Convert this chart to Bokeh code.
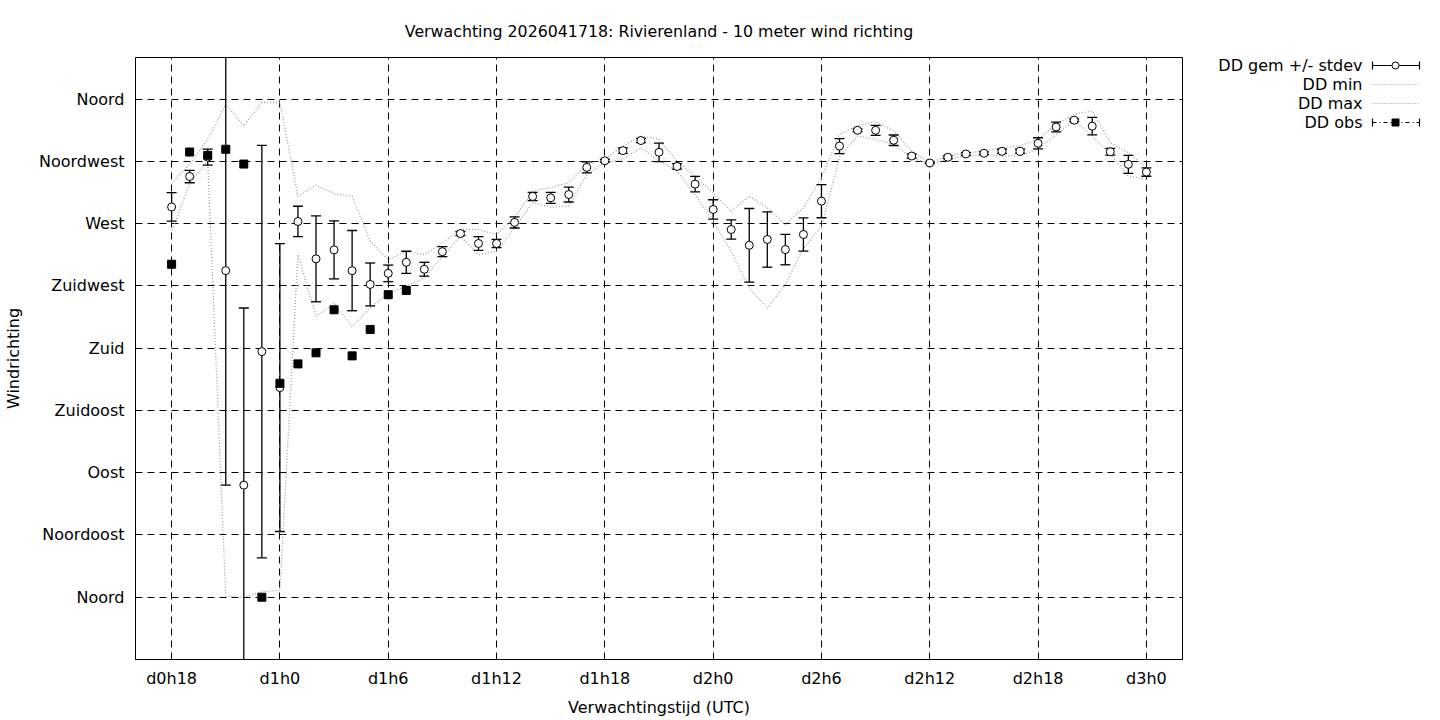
import math
from bokeh.plotting import figure
from bokeh.models import Range1d, FixedTicker
from bokeh.layouts import row
from bokeh.embed import file_html
from bokeh.resources import INLINE
from bokeh.core.properties import value

# ---- data (hours since d0h0) ----
hours = list(range(18, 73))
dd_mean = [282.0, 304.0, 318.0, 236.0, 81.0, 177.5, 151.5, 271.5, 244.5, 251.0,
           236.0, 226.0, 234.0, 242.0, 237.0, 249.7, 262.8, 255.6, 255.6, 270.8,
           289.6, 288.6, 291.0, 310.6, 315.4, 322.7, 330.0, 321.5, 311.3, 298.5,
           280.2, 265.7, 254.3, 258.5, 251.2, 262.1, 286.2, 326.0, 337.4, 337.4,
           330.2, 318.8, 313.8, 317.9, 320.3, 320.8, 322.2, 322.2, 328.0, 339.8,
           344.7, 340.4, 321.9, 312.8, 307.2]
dd_sd = [10.3, 4.5, 5.8, 155.0, 128.0, 149.0, 104.0, 11.0, 31.0, 21.0,
         29.0, 15.5, 6.0, 8.0, 5.0, 3.6, 1.5, 5.0, 3.0, 4.0,
         3.0, 4.0, 5.4, 4.0, 1.0, 2.0, 1.5, 6.7, 2.0, 5.6,
         7.0, 7.0, 26.6, 20.0, 11.0, 12.0, 12.0, 5.4, 1.0, 3.6,
         3.8, 1.5, 0.5, 1.0, 1.0, 1.0, 1.5, 1.5, 4.0, 3.5,
         1.0, 6.3, 2.5, 6.5, 3.0]
dd_min = [263.3, 299.5, 315.0, 1.0, 0.0, 4.0, 5.0, 247.6, 202.9, 212.5,
          195.6, 208.9, 219.8, 224.6, 230.6, 246.4, 260.9, 247.6, 250.0, 266.9,
          285.0, 281.9, 282.6, 305.6, 314.0, 316.4, 324.8, 315.2, 308.0, 291.0,
          271.7, 250.0, 223.4, 208.9, 225.9, 252.0, 268.0, 318.0, 333.3, 330.9,
          327.3, 317.6, 312.8, 316.4, 318.8, 319.6, 318.8, 319.3, 323.7, 334.5,
          344.2, 333.3, 320.0, 304.3, 301.9]
dd_max = [299.5, 312.8, 330.9, 356.3, 340.6, 357.5, 357.5, 289.8, 297.8, 291.5,
          289.8, 257.2, 244.0, 250.0, 247.6, 256.0, 265.7, 265.7, 262.1, 274.1,
          293.5, 295.9, 299.5, 312.8, 316.4, 326.0, 333.3, 330.9, 315.2, 304.3,
          292.2, 279.0, 289.8, 281.4, 269.3, 281.4, 303.0, 334.5, 340.6, 343.7,
          336.9, 322.4, 314.0, 318.8, 321.2, 322.4, 324.8, 326.1, 330.9, 341.8,
          349.0, 351.4, 328.5, 321.2, 310.4]
obs_hours = list(range(18, 32))
dd_obs = [240.6, 321.7, 319.3, 323.7, 313.0, 0.0, 154.6, 168.6, 176.6, 207.7,
          174.4, 193.5, 218.6, 221.7]

x_ticks = [18, 24, 30, 36, 42, 48, 54, 60, 66, 72]
x_labels = ["d0h18", "d1h0", "d1h6", "d1h12", "d1h18", "d2h0", "d2h6",
            "d2h12", "d2h18", "d3h0"]
y_ticks = [0, 45, 90, 135, 180, 225, 270, 315, 360]
y_labels = ["Noord", "Noordoost", "Oost", "Zuidoost", "Zuid", "Zuidwest",
            "West", "Noordwest", "Noord"]

title = "Verwachting 2026041718: Rivierenland - 10 meter wind richting"
legend_labels = ["DD gem +/- stdev", "DD min", "DD max", "DD obs"]

FONT = "DejaVu Sans"
FS = "16px"
GREY = "#a0a0a0"

lower = [m - s for m, s in zip(dd_mean, dd_sd)]
upper = [m + s for m, s in zip(dd_mean, dd_sd)]

FW, FH = 1047, 602
p = figure(frame_width=FW, frame_height=FH,
           x_range=Range1d(16, 74), y_range=Range1d(-45, 390),
           output_backend="svg", toolbar_location=None,
           min_border_left=134, min_border_right=8,
           min_border_top=57, min_border_bottom=58)
p.background_fill_color = "white"
p.border_fill_color = "white"
p.outline_line_color = "black"
p.outline_line_width = 1

p.title.text = title
p.title.align = "center"
p.title.text_font = FONT
p.title.text_font_size = "15.8px"
p.title.text_font_style = "normal"
p.title.text_color = "black"
p.title.standoff = 33

p.xaxis.ticker = FixedTicker(ticks=x_ticks)
p.xaxis.major_label_overrides = {t: l for t, l in zip(x_ticks, x_labels)}
p.yaxis.ticker = FixedTicker(ticks=y_ticks)
p.yaxis.major_label_overrides = {t: l for t, l in zip(y_ticks, y_labels)}
p.xaxis.axis_label = "Verwachtingstijd (UTC)"
p.yaxis.axis_label = "Windrichting"
for ax in (p.xaxis, p.yaxis):
    ax.major_label_text_font = FONT
    ax.major_label_text_font_size = FS
    ax.major_label_text_color = "black"
    ax.axis_label_text_font = FONT
    ax.axis_label_text_font_size = FS
    ax.axis_label_text_font_style = "normal"
    ax.axis_label_text_color = "black"
    ax.major_tick_in = 6
    ax.major_tick_out = 0
    ax.minor_tick_line_color = None
    ax.axis_line_color = "black"
    ax.major_tick_line_color = "black"
p.xaxis.major_label_standoff = 9
p.xaxis.axis_label_standoff = 7
p.yaxis.major_label_standoff = 11
p.yaxis.axis_label_standoff = 13

for g, tk in ((p.xgrid, x_ticks), (p.ygrid, y_ticks)):
    g.ticker = FixedTicker(ticks=tk)
    g.grid_line_color = "black"
    g.grid_line_dash = "7 5"
    g.grid_line_width = 1

# min / max dotted lines
p.line(hours, dd_min, line_color=GREY, line_dash="1 2", line_width=1.3)
p.line(hours, dd_max, line_color=GREY, line_dash="1 2", line_width=1.3)

# error bars
p.segment(x0=hours, y0=lower, x1=hours, y1=upper, line_color="black", line_width=1.3)
p.scatter(hours, lower, marker="dash", size=10, line_color="black", line_width=1.3)
p.scatter(hours, upper, marker="dash", size=10, line_color="black", line_width=1.3)
p.scatter(hours, dd_mean, marker="circle", size=8, fill_color="white",
          line_color="black", line_width=1)

# observations
p.scatter(obs_hours, dd_obs, marker="square", size=8, fill_color="black",
          line_color="black")

# ---- legend panel (coordinates: pixels from top-left of its frame) ----
lf = figure(frame_width=240, frame_height=FH, x_range=Range1d(0, 240),
            y_range=Range1d(FH, 0),
            output_backend="svg", toolbar_location=None,
            min_border=0, min_border_left=0, min_border_right=0,
            min_border_top=0, min_border_bottom=0)
lf.axis.visible = False
lf.grid.visible = False
lf.outline_line_color = None
lf.background_fill_color = "white"
lf.border_fill_color = "white"

ly = [8, 27, 46, 65]
lf.text(x=[172] * 4, y=ly, text=legend_labels, text_align="right",
        text_baseline="middle", text_font=value(FONT), text_font_size=FS,
        text_color="black")
x0, x1, xc = 182, 229, 205
# item 1: error bar
lf.segment(x0=[x0], y0=[ly[0]], x1=[x1], y1=[ly[0]], line_color="black", line_width=1.2)
lf.segment(x0=[x0, x1], y0=[ly[0] - 4, ly[0] - 4], x1=[x0, x1], y1=[ly[0] + 4, ly[0] + 4],
           line_color="black", line_width=1.2)
lf.scatter([xc], [ly[0]], marker="circle", size=7, fill_color="white", line_color="black")
# items 2,3: dotted lines
for yy in ly[1:3]:
    lf.segment(x0=[x0], y0=[yy], x1=[x1], y1=[yy], line_color=GREY,
               line_dash="1 2", line_width=1.2)
# item 4: obs
lf.segment(x0=[x0], y0=[ly[3]], x1=[x1], y1=[ly[3]], line_color="black",
           line_dash="4 3 1 3", line_width=1.2)
lf.segment(x0=[x0, x1], y0=[ly[3] - 4, ly[3] - 4], x1=[x0, x1], y1=[ly[3] + 4, ly[3] + 4],
           line_color="black", line_width=1.2)
lf.scatter([xc], [ly[3]], marker="square", size=7, fill_color="black", line_color="black")

layout = row(p, lf)
open("out.html", "w").write(file_html(layout, INLINE))
